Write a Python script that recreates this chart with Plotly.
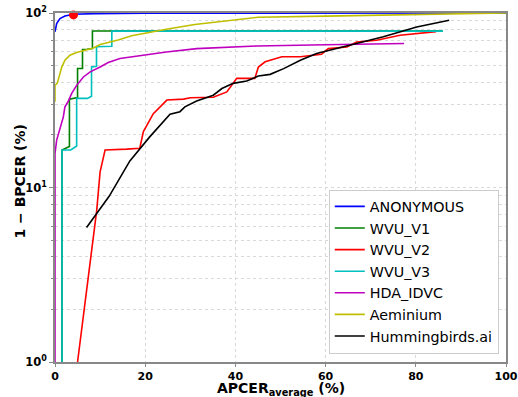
import plotly.graph_objects as go

# ---------------- data ----------------
anon_x = [0, 0.37, 1.1, 2.2, 4.1, 8.6, 20, 100]
anon_y = [78, 87, 92.9, 96.1, 98.3, 99.2, 99.8, 100]

v1_x = [1.55, 1.55, 3.2, 3.2, 5.0, 5.0, 6.1, 6.1, 7.1, 8.3, 8.3, 86]
v1_y = [1, 16.4, 17.2, 32.1, 32.8, 48.1, 48.1, 61.7, 62, 62.5, 78.8, 78.8]

v2_x = [5.0, 8.5, 8.7, 9.25, 10, 11.1, 15.9, 18.8, 19.6, 21.8, 24.8, 28.5, 30, 35.1,
        38.1, 40.3, 44.3, 45.1, 46.6, 50.3, 54.4, 59.1, 60.6, 64.7, 66.9, 71.3, 76.5, 84.5]
v2_y = [1, 5.35, 5.6, 7.4, 12.3, 16.4, 16.6, 16.8, 20.9, 26.5, 31.7, 32.1, 32.7, 32.9,
        35.3, 42.2, 42.2, 49, 52.5, 56.1, 56.1, 58, 62.5, 63.9, 68.2, 69.8, 74.5, 78.2]

v3_x = [1.55, 1.55, 3.5, 4.8, 4.8, 7.2, 8.1, 8.1, 9.2, 9.2, 12.6, 12.6, 86]
v3_y = [1, 16.4, 16.4, 17.3, 32.4, 32.4, 33.3, 49, 49.5, 64, 64.5, 78.7, 78.7]

hda_x = [0, 0, 0.37, 0.75, 1.5, 1.85, 2.2, 2.95, 3.7, 4.8, 6.3, 7.8, 10, 11.8, 14.4,
         17.3, 21, 24.7, 31.4, 44.7, 60, 77.4]
hda_y = [1, 15.7, 18.7, 20.4, 23.4, 25.4, 29, 31.2, 34.6, 38.5, 43, 46, 49, 52, 54.8,
         56.2, 57.9, 59.8, 62.5, 64.7, 65.8, 66.9]

aem_x = [0, 0, 0.5, 1.0, 1.5, 2.2, 3.3, 4.8, 6.3, 8.5, 10, 12, 14, 17, 21, 25, 31, 38,
         45, 60, 75, 88, 100]
aem_y = [31, 38.6, 39.5, 44, 49, 53.6, 57.3, 59.3, 60.7, 63, 66, 68, 70, 74, 77.5, 81, 86,
         90, 94.5, 96, 97.5, 99, 100]

hum_x = [7.0, 12, 16.6, 21, 25.5, 27.7, 28.8, 31.4, 35.1, 37, 39.5, 42.5, 45.1, 47.7,
         50.7, 54.4, 58, 65.4, 72.8, 80.2, 87.4]
hum_y = [5.9, 8.9, 14.2, 19.5, 26.3, 27.2, 29.0, 31.3, 33.8, 36.9, 39.5, 40.8, 43.5,
         44.5, 48, 53.6, 58.6, 65.3, 73, 83.2, 90.9]

dot_x = [4.1]
dot_y = [97.5]

series_names = ["ANONYMOUS", "WVU_V1", "WVU_V2", "WVU_V3", "HDA_IDVC", "Aeminium", "Hummingbirds.ai"]
series_x = [anon_x, v1_x, v2_x, v3_x, hda_x, aem_x, hum_x]
series_y = [anon_y, v1_y, v2_y, v3_y, hda_y, aem_y, hum_y]
colors = ["#0000ff", "#008000", "#ff0000", "#00bfbf", "#bf00bf", "#bfbf00", "#000000"]

x_ticks = [0, 20, 40, 60, 80, 100]
y_ticks = [1, 10, 100]
y_ticktext = ["10<sup>0</sup>", "10<sup>1</sup>", "10<sup>2</sup>"]
y_minor = [m * 10 ** e for e in (0, 1) for m in range(2, 10)]

x_title = "<b>APCER<sub>average</sub> (%)</b>"
y_title = "<b>1 − BPCER (%)</b>"

FONT = "DejaVu Sans"

fig = go.Figure()
for name, xs, ys, c in zip(series_names, series_x, series_y, colors):
    fig.add_trace(go.Scatter(x=xs, y=ys, mode="lines", name=name,
                             line=dict(color=c, width=1.6)))
fig.add_trace(go.Scatter(x=dot_x, y=dot_y, mode="markers", showlegend=False,
                         marker=dict(color="#ff0000", size=9), cliponaxis=False))

grid = "#d9d9d9"
fig.update_layout(
    width=518, height=397,
    margin=dict(l=55, r=12, t=13, b=35, autoexpand=False),
    paper_bgcolor="white", plot_bgcolor="white",
    font=dict(family=FONT, color="black"),
    legend=dict(x=0.984, y=0.024, xanchor="right", yanchor="bottom",
                bgcolor="white", bordercolor="#cccccc", borderwidth=1,
                font=dict(size=14.3, family=FONT), itemwidth=30,
                tracegroupgap=0),
    showlegend=True,
    annotations=[
        dict(text=x_title, xref="paper", yref="paper", x=0.5, y=0, yanchor="middle",
             yshift=-27, showarrow=False, borderpad=0, font=dict(size=14, family=FONT)),
        dict(text=y_title, xref="paper", yref="paper", x=0, y=0.517, xanchor="center",
             xshift=-35, textangle=-90, showarrow=False, font=dict(size=14, family=FONT)),
    ],
)
fig.update_xaxes(
    range=[0, 100], tickvals=x_ticks, ticklabeloverflow="allow",
    tickfont=dict(size=11, family=FONT, weight="bold"),
    showgrid=True, gridcolor=grid, griddash="dot", gridwidth=1,
    showline=True, linecolor="#888888", linewidth=1.5, mirror=True,
    ticks="outside", ticklen=3, tickcolor="#888888", zeroline=False,
)
fig.update_yaxes(
    type="log", range=[0, 2], tickvals=y_ticks, ticktext=y_ticktext,
    ticklabeloverflow="allow",
    tickfont=dict(size=11.5, family=FONT, weight="bold"),
    showgrid=True, gridcolor=grid, griddash="dot", gridwidth=1,
    minor=dict(tickvals=y_minor, showgrid=True, gridcolor=grid, griddash="dot",
               ticks="outside", ticklen=2, tickcolor="#888888"),
    showline=True, linecolor="#888888", linewidth=1.5, mirror=True,
    ticks="outside", ticklen=4, tickcolor="#888888", zeroline=False,
)

# remove the browser's default 8px body margin so the figure sits at the page origin
fig.write_html("out.html", config={"displayModeBar": False},
               post_script="document.body.style.margin='0px';")
